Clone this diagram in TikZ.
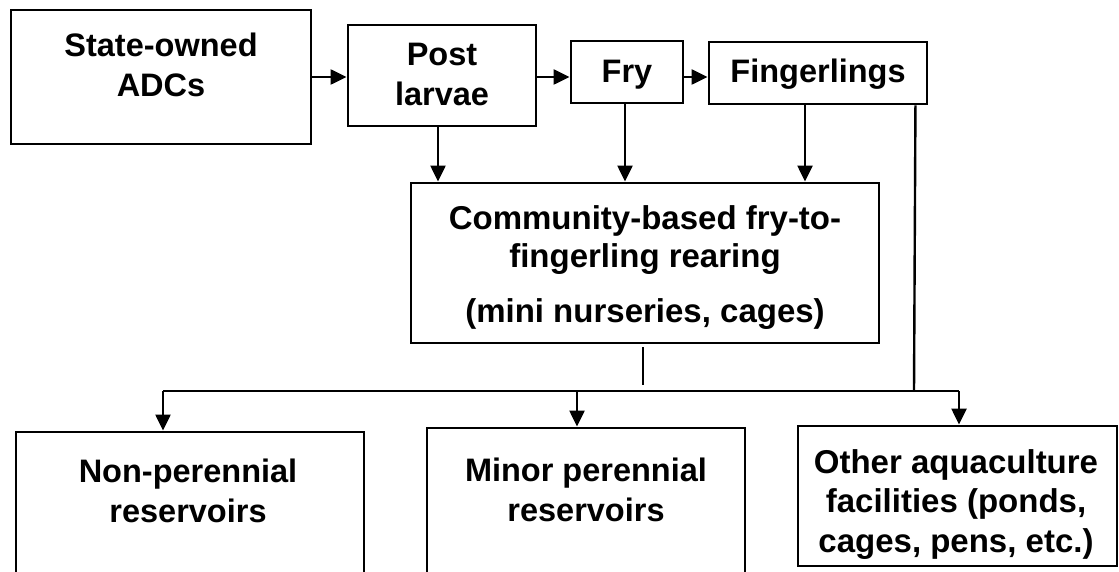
\documentclass[tikz,border=0pt]{standalone}
\usepackage{fontspec}
\setmainfont{Liberation Sans}
\usetikzlibrary{arrows.meta,calc}
\begin{document}
\begin{tikzpicture}[x=1pt,y=-1pt,
  box/.style={draw=black,line width=2.9pt,rectangle,inner sep=0pt,fill=none},
  txt/.style={inner sep=0pt,align=center,font=\fontsize{32.5}{40}\selectfont\bfseries,anchor=base},
  conn/.style={line width=2.4pt},
  arr/.style={line width=2.4pt,-{Triangle[length=16pt,width=15pt]}}]
\useasboundingbox (0,0) rectangle (1119,572);
\clip (0,0) rectangle (1119,572);
% boxes
\node[box,minimum width=300pt,minimum height=134pt] (state) at (161,77) {};
\node[box,minimum width=188pt,minimum height=101pt] (post) at (442,75.5) {};
\node[box,minimum width=112pt,minimum height=62pt] (fry) at (627,72) {};
\node[box,minimum width=218pt,minimum height=62pt] (fing) at (818,73) {};
\node[box,minimum width=468pt,minimum height=160pt] (comm) at (645,263) {};
\node[box,minimum width=348pt,minimum height=150pt] (non) at (190,507) {};
\node[box,minimum width=318pt,minimum height=148pt] (minor) at (586,502) {};
\node[box,minimum width=319pt,minimum height=140pt] (other) at (957.5,496) {};
% texts (anchor = baseline of last line)
\node[txt] (statet) at (161,96.7) {State-owned\\ADCs};
\node[txt] (postt) at (442,106) {Post\\larvae};
\node[txt] (fryt) at (627,82.3) {Fry};
\node[txt] (fingt) at (818,82.7) {Fingerlings};
\node[txt,font=\fontsize{33}{38}\selectfont\bfseries] (commt) at (645,322) {Community-based fry-to-\\fingerling rearing\\[17pt](mini nurseries, cages)};
\node[txt] (nont) at (188,522.7) {Non-perennial\\reservoirs};
\node[txt] (minort) at (586,521) {Minor perennial\\reservoirs};
\node[txt,font=\fontsize{33}{39.5}\selectfont\bfseries] (othert) at (956,552) {Other aquaculture\\facilities (ponds,\\cages, pens, etc.)};
% top row arrows
\draw[arr] (state.east) -- (state.east -| post.west);
\draw[arr] (post.east |- state.east) -- (fry.west |- state.east);
\draw[arr] (fry.east |- state.east) -- (fing.west |- state.east);
% down arrows to community box
\draw[arr] ([xshift=-4pt]post.south) -- ([xshift=-4pt]post.south |- comm.north);
\draw[arr] ([xshift=-2pt]fry.south) -- ([xshift=-2pt]fry.south |- comm.north);
\draw[arr] ([xshift=-13pt]fing.south) -- ([xshift=-13pt]fing.south |- comm.north);
% distribution bus
\coordinate (busL) at (163,391);
\coordinate (busM) at (577,391);
\coordinate (busF) at (914,391);
\coordinate (busR) at (959,391);
\coordinate (busC) at (643,385);
\draw[conn] ([xshift=-2pt,yshift=-3pt]comm.south) -- (busC);
\draw[conn] ([xshift=-13pt]fing.south east) -- (busF);
\draw[conn] (busL) -- (busR);
\draw[arr] (busL) -- (busL |- non.north);
\draw[arr] (busM) -- (busM |- minor.north);
\draw[arr] (busR) -- (busR |- other.north);
\end{tikzpicture}
\end{document}
